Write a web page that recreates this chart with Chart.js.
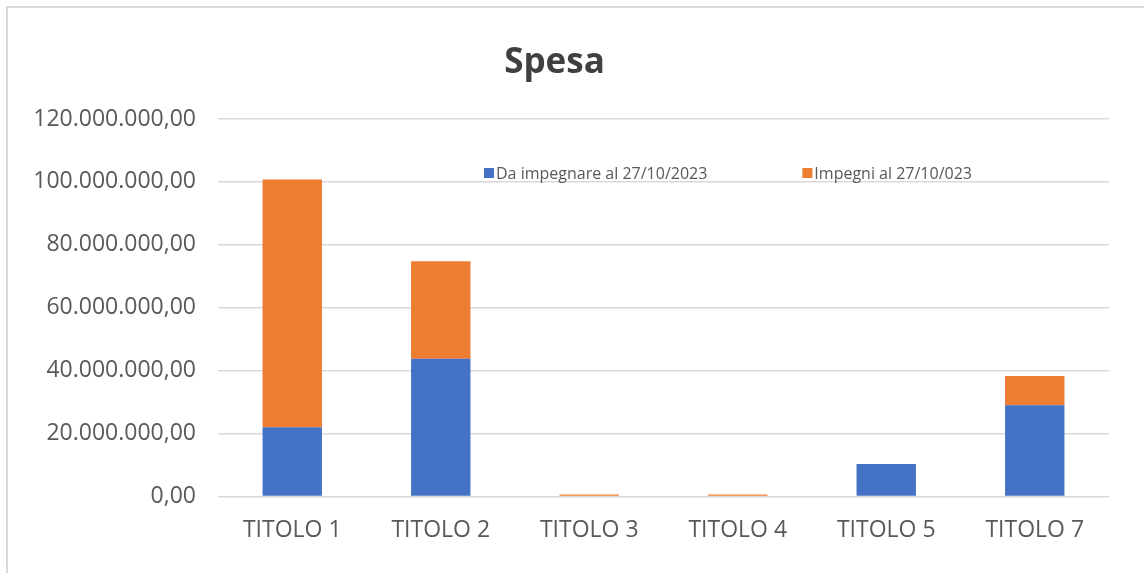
<!DOCTYPE html>
<html lang="it">
<head>
<meta charset="utf-8">
<title>Spesa</title>
<script src="https://cdn.jsdelivr.net/npm/chart.js@4.4.0/dist/chart.umd.min.js"></script>
<style>
    html, body { margin: 0; padding: 0; background: #fff; }
    #wrap { position: relative; width: 1144px; height: 573px; }
    #frame {
        position: absolute; left: 6px; top: 6px; right: -10px; bottom: -10px;
        border-left: 2px solid #d9d9d9; border-top: 2px solid #d9d9d9;
        pointer-events: none;
    }
    canvas { position: absolute; left: 0; top: 0; }
</style>
</head>
<body>
<div id="wrap">
    <canvas id="spesaChart" width="1144" height="573"></canvas>
    <div id="frame"></div>
</div>
<script>
// Data
const categories = ['TITOLO 1', 'TITOLO 2', 'TITOLO 3', 'TITOLO 4', 'TITOLO 5', 'TITOLO 7'];
const daImpegnare = [22000000, 43800000, 0, 0, 10300000, 29000000];
const impegni = [78800000, 31000000, 600000, 600000, 0, 9300000];
const seriesLabels = ['Da impegnare al 27/10/2023', 'Impegni al 27/10/023'];
const seriesColors = ['#4472C4', '#ED7D31'];

const textColor = '#595959';
const fontFamily = '"Open Sans", "Noto Sans", sans-serif';

// Italian number format: 120.000.000,00
function formatIt(value) {
    const parts = Math.abs(value).toFixed(2).split('.');
    const intPart = parts[0].replace(/\B(?=(\d{3})+(?!\d))/g, '.');
    return (value < 0 ? '-' : '') + intPart + ',' + parts[1];
}

// Legend drawn inside the plot, like the Excel original
const insideLegend = {
    id: 'insideLegend',
    afterDraw(chart) {
        const ctx = chart.ctx;
        const y = 173;
        let x = 484;
        ctx.save();
        ctx.font = '16px ' + fontFamily;
        ctx.textBaseline = 'middle';
        chart.data.datasets.forEach((ds, i) => {
            ctx.fillStyle = ds.backgroundColor;
            ctx.fillRect(x, y - 5, 10, 10);
            ctx.fillStyle = textColor;
            ctx.fillText(ds.label, x + 12, y + 1);
            x += 12 + ctx.measureText(ds.label).width + 95;
        });
        ctx.restore();
    }
};

const chart = new Chart(document.getElementById('spesaChart'), {
    type: 'bar',
    data: {
        labels: categories,
        datasets: [{
            label: seriesLabels[0],
            data: daImpegnare,
            backgroundColor: seriesColors[0],
            categoryPercentage: 1,
            barPercentage: 0.4
        }, {
            label: seriesLabels[1],
            data: impegni,
            backgroundColor: seriesColors[1],
            categoryPercentage: 1,
            barPercentage: 0.4
        }]
    },
    options: {
        responsive: false,
        animation: false,
        layout: {
            padding: { left: 0, right: 35, top: 0, bottom: 9 }
        },
        plugins: {
            legend: { display: false },
            tooltip: { enabled: false },
            title: {
                display: true,
                text: 'Spesa',
                color: '#404040',
                font: { family: fontFamily, size: 35, weight: 'bold' },
                padding: { top: 42, bottom: 35 }
            }
        },
        scales: {
            x: {
                stacked: true,
                grid: { display: false, drawTicks: false },
                border: { display: false },
                ticks: {
                    color: textColor,
                    font: { family: fontFamily, size: 23 },
                    padding: 20,
                    maxRotation: 0
                }
            },
            y: {
                stacked: true,
                min: 0,
                max: 120000000,
                afterFit(scale) { scale.width = 218; },
                grid: { color: '#d9d9d9', lineWidth: 1.5, drawTicks: false },
                border: { display: false },
                ticks: {
                    stepSize: 20000000,
                    color: textColor,
                    font: { family: fontFamily, size: 23 },
                    padding: 22,
                    callback: (value) => formatIt(value)
                }
            }
        }
    },
    plugins: [insideLegend]
});
</script>
</body>
</html>
